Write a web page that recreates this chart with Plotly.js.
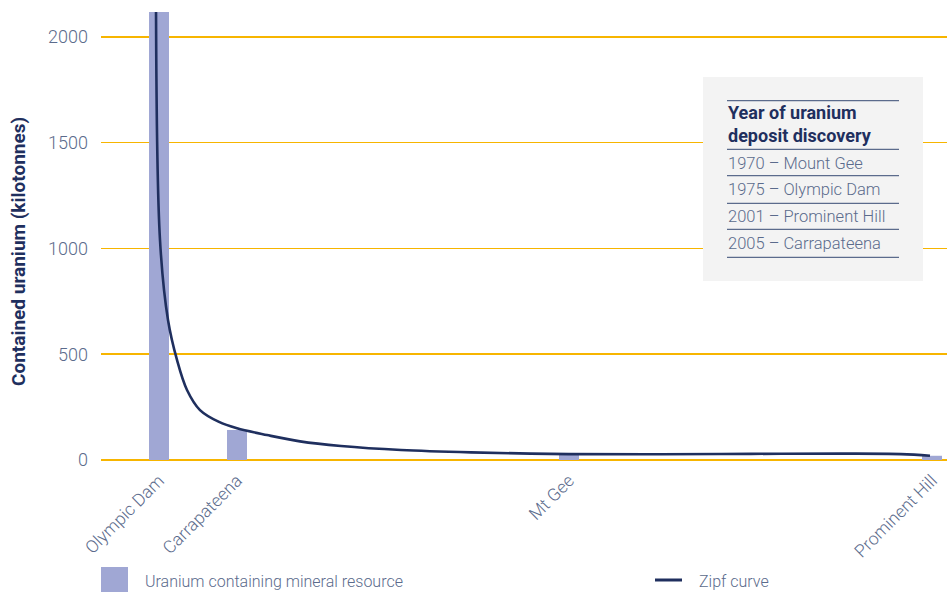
<!DOCTYPE html>
<html>
<head>
<meta charset="utf-8">
<script src="https://cdn.plot.ly/plotly-3.0.1.min.js"></script>
<style>html,body{margin:0;padding:0;background:#fff;}#chart{width:947px;height:593px;}</style>
</head>
<body>
<div id="chart"></div>
<script>
// Deposits (bars)
const deposits = ["Olympic Dam", "Carrapateena", "Mt Gee", "Prominent Hill"];
const depositPos = [58, 136, 468, 831];           // position along the x scale
const depositUranium = [2250, 142, 25, 20];        // kilotonnes contained uranium

// Zipf curve
const zipfPos = [55, 59, 67, 76, 86, 99, 118, 136, 166, 199, 240, 300, 370, 468, 560, 650, 740, 800, 829];
const zipfUranium = [2150, 1040, 662, 473, 331, 236, 180, 150, 118, 88, 66, 47, 36, 28, 27, 29, 30, 28, 20];

const yTicks = [0, 500, 1000, 1500, 2000];
const discoveryYears = ["1970 – Mount Gee", "1975 – Olympic Dam", "2001 – Prominent Hill", "2005 – Carrapateena"];

const FONT = "Roboto, 'Open Sans', sans-serif";
const TICK = "#5b6b8c";
const NAVY = "#1f2f5e";
const BAR = "#a0a7d4";
const GOLD = "#f7b500";

const traces = [
  {type: "bar", x: depositPos, y: depositUranium, width: 20, marker: {color: BAR},
   name: "Uranium containing mineral resource", showlegend: false, hoverinfo: "x+y"},
  {type: "scatter", mode: "lines", x: zipfPos, y: zipfUranium,
   line: {color: NAVY, width: 2.6, shape: "spline", smoothing: 1},
   name: "Zipf curve", showlegend: false}
];

// helpers to convert pixel layout positions into paper coords
const L = 101, R = 947, T = 12, B = 460;
const px = v => (v - L) / (R - L);
const py = v => (B - v) / (B - T);

const shapes = [
  {type: "rect", xref: "paper", yref: "paper", x0: px(703), x1: px(923), y0: py(281), y1: py(77),
   fillcolor: "#f3f3f3", line: {width: 0}, layer: "above"},
  // legend swatch & line
  {type: "rect", xref: "paper", yref: "paper", x0: px(101), x1: px(128), y0: py(592), y1: py(567),
   fillcolor: BAR, line: {width: 0}},
  {type: "line", xref: "paper", yref: "paper", x0: px(655), x1: px(682), y0: py(580), y1: py(580),
   line: {color: NAVY, width: 3}}
];
[100.7, 149.3, 175.7, 203.3, 229.3, 257.3].forEach(y => {
  shapes.push({type: "line", xref: "paper", yref: "paper", x0: px(727), x1: px(899), y0: py(y), y1: py(y),
    line: {color: "#5b6b8c", width: 1.2}, layer: "above"});
});

const annotations = [
  {xref: "paper", yref: "paper", x: px(18), y: py(252), xanchor: "center", yanchor: "middle",
   text: "Contained uranium (kilotonnes)",
   textangle: -90, showarrow: false, font: {family: FONT, size: 19, color: NAVY, weight: 700}},
  {xref: "paper", yref: "paper", x: px(726), y: py(124), xanchor: "left", yanchor: "middle",
   align: "left", showarrow: false, text: "Year of uranium<br>deposit discovery",
   font: {family: FONT, size: 18, color: NAVY, weight: 700}},
  {xref: "paper", yref: "paper", x: px(143), y: py(581), xanchor: "left", yanchor: "middle",
   showarrow: false, text: "Uranium containing mineral resource",
   font: {family: FONT, size: 16, color: TICK, weight: 300}},
  {xref: "paper", yref: "paper", x: px(697), y: py(581), xanchor: "left", yanchor: "middle",
   showarrow: false, text: "Zipf curve",
   font: {family: FONT, size: 16, color: TICK, weight: 300}}
];
const yearY = [163, 189, 216, 243];
discoveryYears.forEach((t, i) => {
  annotations.push({xref: "paper", yref: "paper", x: px(726), y: py(yearY[i]), xanchor: "left", yanchor: "middle",
    showarrow: false, text: t, font: {family: FONT, size: 16.5, color: TICK, weight: 300}});
});

const layout = {
  width: 947, height: 593,
  margin: {l: 101, r: 0, t: 12, b: 133},
  paper_bgcolor: "#fff", plot_bgcolor: "#fff",
  showlegend: false,
  font: {family: FONT, color: TICK},
  xaxis: {range: [0, 846], tickmode: "array", tickvals: depositPos, ticktext: deposits,
    tickangle: -45, showgrid: false, zeroline: false, showline: false, ticks: "",
    ticklabelstandoff: 6,
    tickfont: {family: FONT, size: 17.5, color: TICK, weight: 300}, fixedrange: true},
  yaxis: {range: [0, 2118], tickmode: "array", tickvals: yTicks, showgrid: true,
    gridcolor: GOLD, gridwidth: 1.5, zeroline: true, zerolinecolor: GOLD, zerolinewidth: 1.5,
    showline: false, ticks: "", ticklabelstandoff: 12,
    tickfont: {family: FONT, size: 18, color: TICK, weight: 300}, fixedrange: true},
  shapes: shapes,
  annotations: annotations
};

Plotly.newPlot("chart", traces, layout, {displayModeBar: false, staticPlot: true});
</script>
</body>
</html>
